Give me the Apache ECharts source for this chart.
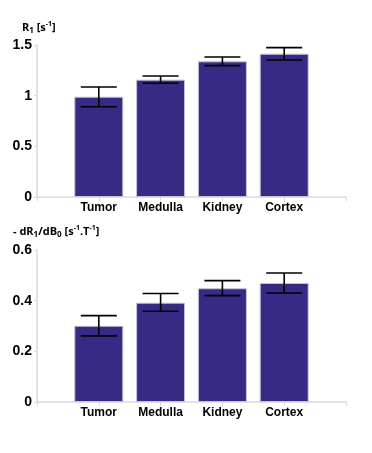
<!DOCTYPE html>
<html>
<head>
<meta charset="utf-8">
<script src="https://cdn.jsdelivr.net/npm/echarts@6/dist/echarts.min.js"></script>
<style>
  html, body { margin: 0; padding: 0; background: #fff; }
  #chart { width: 372px; height: 453px; }
</style>
</head>
<body>
<div id="chart"></div>
<script>
// categories, padded with empty slots so the axis runs half a bar past each end
const categories = ['', 'Tumor', 'Medulla', 'Kidney', 'Cortex', ''];

// top panel: R1 [s-1]
const r1Values = [0.99, 1.158, 1.339, 1.414];
const r1ErrLow = [0.891, 1.122, 1.296, 1.352];
const r1ErrHigh = [1.086, 1.194, 1.382, 1.474];

// bottom panel: -dR1/dB0 [s-1.T-1]
const dR1Values = [0.301, 0.392, 0.449, 0.47];
const dR1ErrLow = [0.261, 0.358, 0.42, 0.43];
const dR1ErrHigh = [0.341, 0.428, 0.479, 0.509];

const r1Ticks = { min: 0, max: 1.5, interval: 0.5 };
const dR1Ticks = { min: 0, max: 0.6, interval: 0.2 };

const barColor = '#352a84';
const axisGray = '#d9d9d9';

const chart = echarts.init(document.getElementById('chart'));

const pad = arr => [null, ...arr, null];
const errData = (lo, hi) => lo.map((v, i) => [i + 1, v, hi[i]]);

const renderErr = (params, api) => {
  const x = api.value(0);
  const lo = api.coord([x, api.value(1)]);
  const hi = api.coord([x, api.value(2)]);
  const half = 18;
  const style = { stroke: '#000', lineWidth: 1.6 };
  return {
    type: 'group',
    children: [
      { type: 'line', shape: { x1: lo[0], y1: lo[1], x2: hi[0], y2: hi[1] }, style },
      { type: 'line', shape: { x1: hi[0] - half, y1: hi[1], x2: hi[0] + half, y2: hi[1] }, style },
      { type: 'line', shape: { x1: lo[0] - half, y1: lo[1], x2: lo[0] + half, y2: lo[1] }, style }
    ]
  };
};

const xAxisBase = gridIndex => ({
  type: 'category',
  gridIndex,
  data: categories,
  boundaryGap: false,
  axisLine: { lineStyle: { color: axisGray, width: 1.5 } },
  axisTick: { show: true, length: 4, lineStyle: { color: axisGray } },
  axisLabel: {
    interval: 0,
    margin: 5,
    color: '#000',
    fontFamily: 'Liberation Sans',
    fontWeight: 'bold',
    fontSize: 12
  }
});

const yAxisBase = (gridIndex, ticks) => ({
  type: 'value',
  gridIndex,
  min: ticks.min,
  max: ticks.max,
  interval: ticks.interval,
  splitLine: { show: false },
  axisLine: { show: true, lineStyle: { color: axisGray, width: 1.5 } },
  axisTick: { show: true, length: 3, lineStyle: { color: axisGray } },
  axisLabel: {
    margin: 5,
    color: '#000',
    fontFamily: 'Liberation Sans',
    fontWeight: 'bold',
    fontSize: 14
  }
});

const titleRich = {
  m: { fontFamily: 'Open Sans', fontWeight: 'bold', fontSize: 11, color: '#000', lineHeight: 15 },
  sub: { fontFamily: 'Open Sans', fontWeight: 'bold', fontSize: 8, color: '#000', verticalAlign: 'bottom', lineHeight: 8 },
  sup: { fontFamily: 'Open Sans', fontWeight: 'bold', fontSize: 7, color: '#000', verticalAlign: 'top', lineHeight: 7 }
};

const option = {
  animation: false,
  backgroundColor: '#fff',
  title: [
    {
      left: 22, top: 20, padding: 0,
      text: '{m|R}{sub|1}{m| [s}{sup|-1}{m|]}',
      textStyle: { rich: titleRich }
    },
    {
      left: 13, top: 224, padding: 0,
      text: '{m|- dR}{sub|1}{m|/dB}{sub|0}{m| [s}{sup|-1}{m|.T}{sup|-1}{m|]}',
      textStyle: { rich: titleRich }
    }
  ],
  grid: [
    { left: 37, right: 26, top: 45, bottom: 256 },
    { left: 37, right: 26, top: 250, bottom: 51 }
  ],
  xAxis: [xAxisBase(0), xAxisBase(1)],
  yAxis: [yAxisBase(0, r1Ticks), yAxisBase(1, dR1Ticks)],
  series: [
    {
      type: 'bar',
      xAxisIndex: 0,
      yAxisIndex: 0,
      data: pad(r1Values),
      barWidth: 49,
      itemStyle: { color: barColor, borderColor: '#c4c4d4', borderWidth: 1 }
    },
    {
      type: 'custom',
      xAxisIndex: 0,
      yAxisIndex: 0,
      data: errData(r1ErrLow, r1ErrHigh),
      renderItem: renderErr,
      z: 10
    },
    {
      type: 'bar',
      xAxisIndex: 1,
      yAxisIndex: 1,
      data: pad(dR1Values),
      barWidth: 49,
      itemStyle: { color: barColor, borderColor: '#c4c4d4', borderWidth: 1 }
    },
    {
      type: 'custom',
      xAxisIndex: 1,
      yAxisIndex: 1,
      data: errData(dR1ErrLow, dR1ErrHigh),
      renderItem: renderErr,
      z: 10
    }
  ]
};

chart.setOption(option);
</script>
</body>
</html>
